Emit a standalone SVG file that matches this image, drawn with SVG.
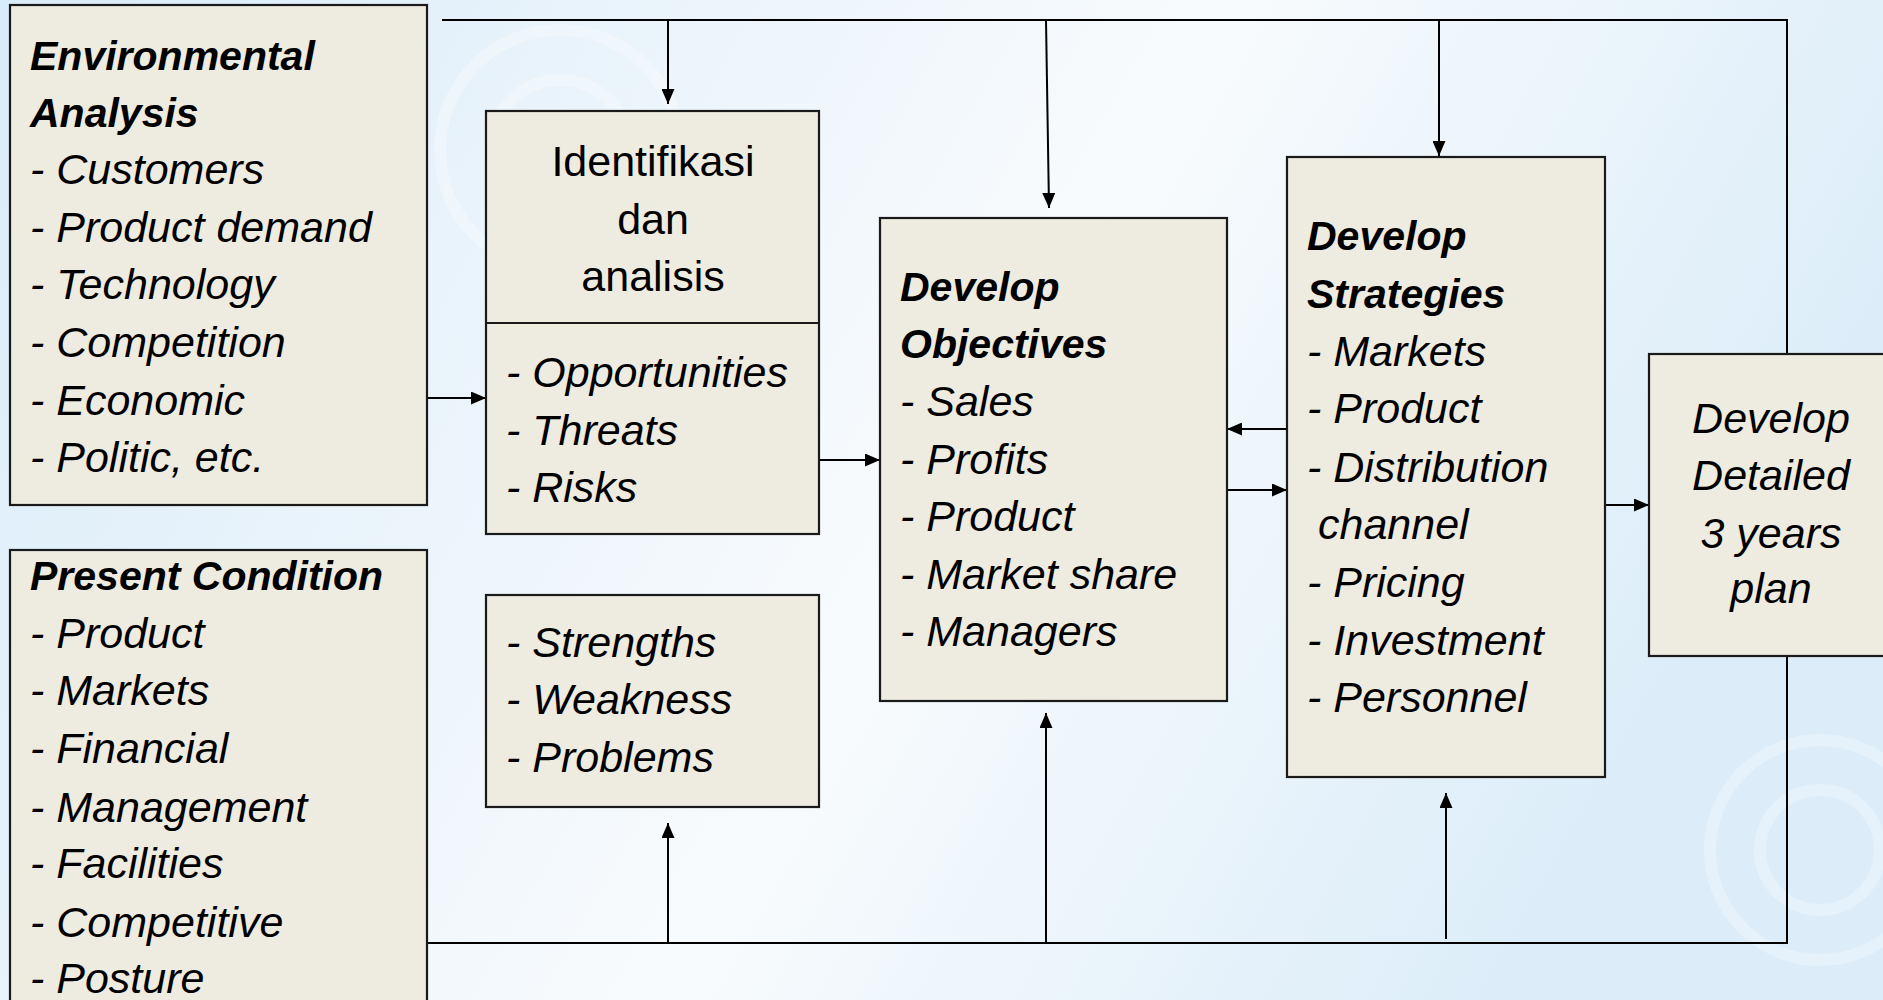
<svg xmlns="http://www.w3.org/2000/svg" width="1883" height="1000" viewBox="0 0 1883 1000">
<defs>
<linearGradient id="bg" x1="0" y1="0" x2="1" y2="0.3">
<stop offset="0" stop-color="#d9ecf9"/>
<stop offset="0.45" stop-color="#f1f7fc"/>
<stop offset="0.6" stop-color="#f8fbfd"/>
<stop offset="1" stop-color="#dcedf9"/>
</linearGradient>
<marker id="ah" markerUnits="userSpaceOnUse" markerWidth="15" markerHeight="13" refX="15" refY="6.5" orient="auto">
<path d="M0,0 L15,6.5 L0,13 z" fill="#000"/>
</marker>
<style>
.box{fill:#eeebe0;stroke:#1a1a1a;stroke-width:2.2}
.ln{fill:none;stroke:#000;stroke-width:2}
.t{font-family:"Liberation Sans",Arial,sans-serif;font-size:43px;fill:#000}
.it{font-style:italic}
.bi{font-style:italic;font-weight:bold;font-size:41px}
.c{text-anchor:middle}
</style>
</defs>
<rect width="1883" height="1000" fill="url(#bg)"/>
<g fill="none" stroke="#ffffff" stroke-opacity="0.3" stroke-width="12">
<circle cx="560" cy="150" r="70"/>
<circle cx="560" cy="150" r="120"/>
<circle cx="1820" cy="850" r="60"/>
<circle cx="1820" cy="850" r="110"/>
</g>
<g id="connectors">
<path class="ln" d="M442,20 H1787 V943 H427"/>
<path class="ln" d="M668,20 V104" marker-end="url(#ah)"/>
<path class="ln" d="M1046,20 L1049,208" marker-end="url(#ah)"/>
<path class="ln" d="M1439,20 V156" marker-end="url(#ah)"/>
<path class="ln" d="M427,398 H486" marker-end="url(#ah)"/>
<path class="ln" d="M819,460 H880" marker-end="url(#ah)"/>
<path class="ln" d="M1287,429 H1227" marker-end="url(#ah)"/>
<path class="ln" d="M1227,490 H1287" marker-end="url(#ah)"/>
<path class="ln" d="M1605,505 H1649" marker-end="url(#ah)"/>
<path class="ln" d="M668,943 V823" marker-end="url(#ah)"/>
<path class="ln" d="M1046,943 V713" marker-end="url(#ah)"/>
<path class="ln" d="M1446,939 V793" marker-end="url(#ah)"/>
</g>
<g id="env">
<rect class="box" x="10" y="5" width="417" height="500"/>
<text class="t bi" x="30" y="70">Environmental</text>
<text class="t bi" x="30" y="127">Analysis</text>
<text class="t it" x="30" y="184">- Customers</text>
<text class="t it" x="30" y="242">- Product demand</text>
<text class="t it" x="30" y="299">- Technology</text>
<text class="t it" x="30" y="357">- Competition</text>
<text class="t it" x="30" y="415">- Economic</text>
<text class="t it" x="30" y="472">- Politic, etc.</text>
</g>
<g id="present">
<rect class="box" x="10" y="550" width="417" height="470"/>
<text class="t bi" x="30" y="590">Present Condition</text>
<text class="t it" x="30" y="648">- Product</text>
<text class="t it" x="30" y="705">- Markets</text>
<text class="t it" x="30" y="763">- Financial</text>
<text class="t it" x="30" y="822">- Management</text>
<text class="t it" x="30" y="878">- Facilities</text>
<text class="t it" x="30" y="937">- Competitive</text>
<text class="t it" x="30" y="993">- Posture</text>
</g>
<g id="identifikasi">
<rect class="box" x="486" y="111" width="333" height="423"/>
<line x1="486" y1="323" x2="819" y2="323" stroke="#1a1a1a" stroke-width="2.2"/>
<text class="t c" x="653" y="176">Identifikasi</text>
<text class="t c" x="653" y="234">dan</text>
<text class="t c" x="653" y="291">analisis</text>
<text class="t it" x="506" y="387">- Opportunities</text>
<text class="t it" x="506" y="445">- Threats</text>
<text class="t it" x="506" y="502">- Risks</text>
</g>
<g id="swp">
<rect class="box" x="486" y="595" width="333" height="212"/>
<text class="t it" x="506" y="657">- Strengths</text>
<text class="t it" x="506" y="714">- Weakness</text>
<text class="t it" x="506" y="772">- Problems</text>
</g>
<g id="objectives">
<rect class="box" x="880" y="218" width="347" height="483"/>
<text class="t bi" x="900" y="301">Develop</text>
<text class="t bi" x="900" y="358">Objectives</text>
<text class="t it" x="900" y="416">- Sales</text>
<text class="t it" x="900" y="474">- Profits</text>
<text class="t it" x="900" y="531">- Product</text>
<text class="t it" x="900" y="589">- Market share</text>
<text class="t it" x="900" y="646">- Managers</text>
</g>
<g id="strategies">
<rect class="box" x="1287" y="157" width="318" height="620"/>
<text class="t bi" x="1307" y="250">Develop</text>
<text class="t bi" x="1307" y="308">Strategies</text>
<text class="t it" x="1307" y="366">- Markets</text>
<text class="t it" x="1307" y="423">- Product</text>
<text class="t it" x="1307" y="482">- Distribution</text>
<text class="t it" x="1318" y="539">channel</text>
<text class="t it" x="1307" y="597">- Pricing</text>
<text class="t it" x="1307" y="655">- Investment</text>
<text class="t it" x="1307" y="712">- Personnel</text>
</g>
<g id="detailed">
<rect class="box" x="1649" y="354" width="250" height="302"/>
<text class="t it c" x="1771" y="433">Develop</text>
<text class="t it c" x="1771" y="490">Detailed</text>
<text class="t it c" x="1771" y="548">3 years</text>
<text class="t it c" x="1771" y="603">plan</text>
</g>
</svg>
